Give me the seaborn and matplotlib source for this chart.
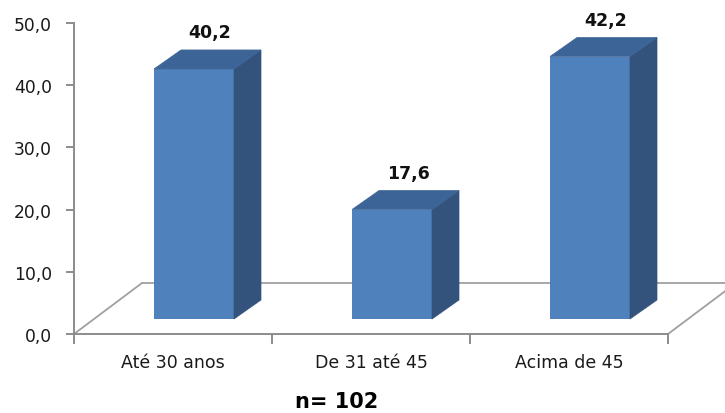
import numpy as np
import pandas as pd
import seaborn as sns
import matplotlib
matplotlib.use("Agg")
import matplotlib.pyplot as plt
from matplotlib.patches import Polygon
from matplotlib.transforms import ScaledTranslation

# ---- data ----
categories = ["Até 30 anos", "De 31 até 45", "Acima de 45"]
values = [40.2, 17.6, 42.2]
value_labels = ["40,2", "17,6", "42,2"]
y_ticks = [0, 10, 20, 30, 40, 50]
y_tick_labels = ["0,0", "10,0", "20,0", "30,0", "40,0", "50,0"]
sample_note = "n= 102"

# ---- style ----
sns.set_theme(style="white")
plt.rcParams["font.family"] = ["DejaVu Sans"]

FRONT = "#4F81BD"
SIDE = "#33537D"
TOP = "#3C6496"
AXIS_GRAY = "#8C8C8C"
FLOOR_GRAY = "#A0A0A0"

W, H, DPI = 725, 414, 100
fig = plt.figure(figsize=(W / DPI, H / DPI), dpi=DPI)
ax = fig.add_axes([74 / W, 79 / H, 594 / W, 311 / H])

df = pd.DataFrame({"faixa": categories, "pct": values})
sns.barplot(data=df, x="faixa", y="pct", color=FRONT, saturation=1,
            width=80 / 198, ax=ax, zorder=4, linewidth=0)

ax.set_xlim(-0.5, len(categories) - 0.5)
ax.set_ylim(0, 50)

# pixel offsets for pseudo-3D
px = lambda v: v / DPI
front_shift = (21, 15)     # front face of bars inside the floor
depth_bar = (27, 19)       # bar depth
depth_floor = (68, 51)     # floor depth


def shifted(dx, dy):
    return ax.transData + ScaledTranslation(px(dx), px(dy), fig.dpi_scale_trans)


def to_data(points, dx, dy):
    disp = ax.transData.transform(points) + np.array([dx, dy])
    return ax.transData.inverted().transform(disp)


# floor
x0, x1 = ax.get_xlim()
corners = np.array([[x0, 0], [x1, 0]])
back = to_data(corners, *depth_floor)
ax.plot([x0, back[0, 0]], [0, back[0, 1]], color=FLOOR_GRAY, lw=1.3,
        clip_on=False, zorder=1)
ax.plot([back[0, 0], back[1, 0]], [back[0, 1], back[1, 1]], color=FLOOR_GRAY,
        lw=1.3, clip_on=False, zorder=1)
ax.plot([x1, back[1, 0]], [0, back[1, 1]], color=FLOOR_GRAY, lw=1.3,
        clip_on=False, zorder=1)

# bars: shift front faces, add side and top faces
for patch in ax.patches:
    bx, by = patch.get_x(), patch.get_y()
    bw, bh = patch.get_width(), patch.get_height()
    patch.set_transform(shifted(*front_shift))
    fr = np.array([[bx, by], [bx + bw, by], [bx + bw, by + bh], [bx, by + bh]])
    f = to_data(fr, *front_shift)
    b = to_data(fr, front_shift[0] + depth_bar[0], front_shift[1] + depth_bar[1])
    side = [f[1], b[1], b[2], f[2]]
    top = [f[3], f[2], b[2], b[3]]
    ax.add_patch(Polygon(side, closed=True, facecolor=SIDE, edgecolor=SIDE,
                         lw=0.5, zorder=4, clip_on=False))
    ax.add_patch(Polygon(top, closed=True, facecolor=TOP, edgecolor=TOP,
                         lw=0.5, zorder=5, clip_on=False))

# value labels
for i, (v, lab) in enumerate(zip(values, value_labels)):
    ax.text(i, v, lab, transform=shifted(37, 52), ha="center", va="center",
            fontsize=12.5, fontweight="bold", color="#111111", clip_on=False)

# axes styling
for s in ["top", "right"]:
    ax.spines[s].set_visible(False)
for s in ["left", "bottom"]:
    ax.spines[s].set_color(AXIS_GRAY)
    ax.spines[s].set_linewidth(1.4)

ax.set_yticks(y_ticks)
ax.set_yticklabels(y_tick_labels)
ax.set_xticks(range(len(categories)))
ax.set_xticklabels(categories)
ax.set_xticks(np.arange(-0.5, len(categories)), minor=True)
ax.tick_params(axis="y", which="major", left=True, length=6, width=1.4,
               color=AXIS_GRAY, labelsize=12.3, labelcolor="#1a1a1a", pad=10)
ax.tick_params(axis="x", which="major", bottom=True, length=0, pad=14,
               labelsize=12.5, labelcolor="#1a1a1a")
ax.tick_params(axis="x", which="minor", bottom=True, length=7, width=1.4,
               color=AXIS_GRAY)
ax.set_xlabel("")
ax.set_ylabel("")
ax.grid(False)

fig.text(337 / W, 1 - 402 / H, sample_note, ha="center", va="center",
         fontsize=15, fontweight="bold", color="black")

fig.savefig("out.png", dpi=DPI)
